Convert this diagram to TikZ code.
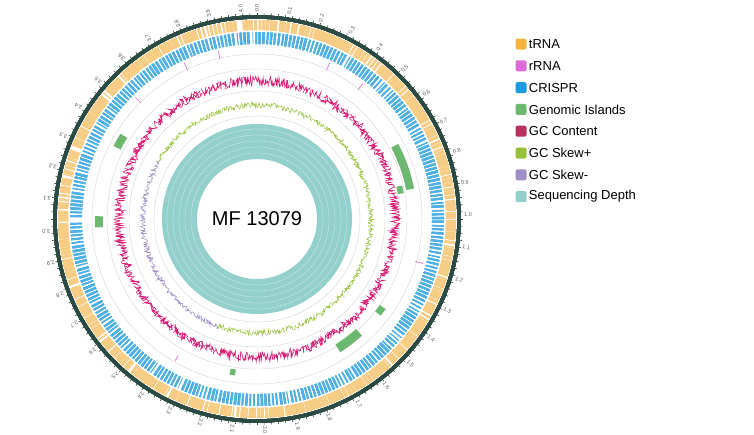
\documentclass[tikz,border=0pt]{standalone}
\usepackage{fontspec}
\setmainfont{Liberation Sans}
\usepackage{xcolor}
\usetikzlibrary{positioning}
\definecolor{trna}{HTML}{F2B441}
\definecolor{trnaring}{HTML}{F7CD85}
\definecolor{rrna}{HTML}{DD6AD6}
\definecolor{crispr}{HTML}{1A9BE0}
\definecolor{crisprring}{HTML}{4FB0E4}
\definecolor{island}{HTML}{6DB870}
\definecolor{gccont}{HTML}{B8325F}
\definecolor{gcring}{HTML}{D81E74}
\definecolor{skewp}{HTML}{98C23A}
\definecolor{skewm}{HTML}{A08FC6}
\definecolor{depth}{HTML}{93D0CC}
\definecolor{backbone}{HTML}{2C4A44}
\tikzset{
  legbox/.style={fill=#1, rounded corners=2pt, minimum size=11pt, inner sep=0pt},
  legtext/.style={right=2pt, font=\fontsize{13pt}{13pt}\selectfont, inner sep=0pt},
  guide/.style={gray!35, line width=0.4pt}
}
\newcommand{\sector}[5]{% color, start angle, width, inner r, outer r
  \fill[#1] (#2:#4) arc ({#2}:{#2+#3}:#4) -- ({#2+#3}:#5) arc ({#2+#3}:{#2}:#5) -- cycle;}
\begin{document}
\begin{tikzpicture}[x=1pt, y=1pt]
    \useasboundingbox (0,-434) rectangle (754,0);
    \pgfmathsetseed{13079}
    \begin{scope}[shift={(257,-219)}]
    % sequencing depth
    \fill[depth, even odd rule] (0,0) circle (95) circle (60);
    \foreach \r in {66,72,...,90} \draw[white, line width=0.3pt, opacity=0.6] (0,0) circle (\r);
    \node (genome) at (0,0) {\fontsize{20pt}{20pt}\selectfont MF 13079};
    % guide circles
    \foreach \r in {103,128,150,165} \draw[guide] (0,0) circle (\r);
    % GC skew
    \draw[skewp, line width=0.5pt] plot[domain=-110:150, samples=700, variable=\t] ({\t}:{114+6*rnd-3});
    \draw[skewm, line width=0.5pt] plot[domain=150:250, samples=280, variable=\t] ({\t}:{114+6*rnd-3});
    % GC content
    \draw[gcring, line width=0.6pt] plot[domain=0:360, samples=1400, variable=\t] ({\t}:{138+10*rnd-5});
    % rRNA
    \foreach \a in {103,115,135,-15,52,65}
      \draw[rrna, line width=0.7pt] (\a:164) -- (\a:172);
    \draw[rrna, line width=0.7pt] (-120:158) -- (-120:164);
    % genomic islands
    \foreach \a/\w/\ri/\ro in {148/5/153/161, 179/4/154/162, 11/17/152/160, 10/3/143/149, -58/10/148/157, -38/3/150/157, -100/2/152/158}
      \sector{island}{\a}{\w}{\ri}{\ro}
    % CRISPR and tRNA features
    \foreach \a in {0,1.2,...,359} {
      \pgfmathsetmacro\w{0.2+0.6*rnd}
      \pgfmathsetmacro\p{rnd}
      \ifdim\p pt>0.45pt \sector{crisprring}{\a}{\w}{175}{187}\fi
      \pgfmathsetmacro\w{0.3+1.0*rnd}
      \pgfmathsetmacro\q{rnd}
      \ifdim\q pt>0.5pt \sector{trnaring}{\a}{\w}{189}{199}\fi
    }
    % backbone and scale
    \draw[backbone, line width=3.5pt] (0,0) circle (202);
    \foreach \a in {0,2,...,358} \draw[backbone, line width=0.6pt] (\a:202) -- (\a:206);
    \foreach \i in {0,...,40} {
      \pgfmathsetmacro\ang{90-\i*8.89}
      \pgfmathtruncatemacro\mb{\i/10}
      \pgfmathtruncatemacro\kb{\i-10*\mb}
      \node[rotate=\ang, anchor=west, inner sep=0pt, font=\fontsize{5.5pt}{5.5pt}\selectfont, gray!70!black] (tick\i) at (\ang:207) {\mb.\kb};
    }
    \end{scope}
    % legend
    \foreach \c/\t [count=\k] in {trna/tRNA, rrna/rRNA, crispr/CRISPR, island/Genomic Islands, gccont/GC Content, skewp/GC Skew+, skewm/GC Skew-, depth/Sequencing Depth} {
      \node[legbox=\c] (key\k) at (521,{-44-21.8*(\k-1)}) {};
      \node[legtext] (lab\k) at (key\k.east) {\t};
    }
\end{tikzpicture}
\end{document}
